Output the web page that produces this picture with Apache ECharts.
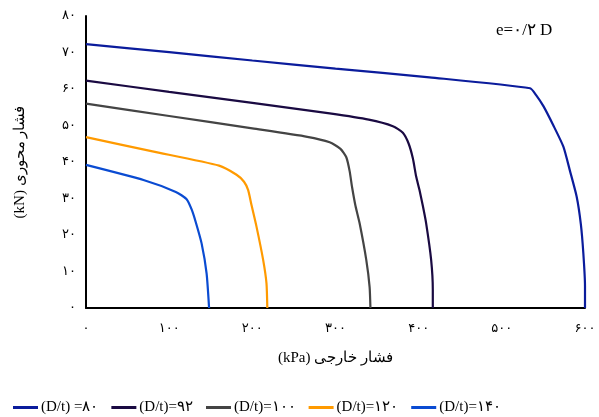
<!DOCTYPE html>
<html>
<head>
<meta charset="utf-8">
<script src="https://cdn.jsdelivr.net/npm/echarts@6/dist/echarts.min.js"></script>
<style>
  html, body { margin: 0; padding: 0; background: #fff; }
  #chart { width: 599px; height: 417px; }
</style>
</head>
<body>
<div id="chart"></div>
<script>
// External pressure (kPa) vs axial load (kN) for each D/t ratio, e = 0.2 D
const seriesNames = ['(D/t) =۸۰', '(D/t)=۹۲', '(D/t)=۱۰۰', '(D/t)=۱۲۰', '(D/t)=۱۴۰'];

const dt80 = [[0,72.3],[100,70.1],[200,67.8],[300,65.6],[413,63.2],[534,60.2],[541,58.4],[550,55.3],[562,50],[574,44.2],[582,37.5],[590,30.5],[595,23],[598,15],[600,6],[600,0]];
const dt92 = [[0,62.3],[100,59.2],[200,56.2],[293,53.3],[340,51.6],[369,49.8],[381,48],[388,45],[393,41],[397,36],[401,32.3],[405,28],[409,23.2],[415,13.2],[417,5],[417,0]];
const dt100 = [[0,56],[100,52.6],[200,49.2],[266,46.9],[293,45.4],[306,43.6],[313,41.3],[317,37.5],[320,33],[324,28],[329,23.2],[337,13.2],[341,5.8],[342,0]];
const dt120 = [[0,46.8],[80,42.9],[160,39],[181,36.5],[190,34.6],[195,32.3],[199,28.2],[205,22.3],[213,13.2],[217,6.8],[218,0]];
const dt140 = [[0,39.2],[70,35],[108,31.8],[121,29.8],[127,27],[132,23.5],[139,17.7],[145,9.5],[148,0]];

const lineColors = ['#0b1c9c', '#1a0a42', '#444444', '#ff9a00', '#0a4bd2'];

const xTickLabels = ['۰', '۱۰۰', '۲۰۰', '۳۰۰', '۴۰۰', '۵۰۰', '۶۰۰'];
const yTickLabels = ['۰', '۱۰', '۲۰', '۳۰', '۴۰', '۵۰', '۶۰', '۷۰', '۸۰'];

const allData = [dt80, dt92, dt100, dt120, dt140];
const serifFont = '"Liberation Serif", "DejaVu Serif", serif';
const digitFont = '"DejaVu Sans", "Noto Sans", sans-serif';

const chart = echarts.init(document.getElementById('chart'), null, { renderer: 'canvas' });

chart.setOption({
  animation: false,
  backgroundColor: '#ffffff',
  grid: { left: 86, right: 14, top: 16, bottom: 109 },
  legend: {
    top: 395,
    left: 8,
    itemGap: 13,
    itemWidth: 25,
    itemHeight: 3,
    icon: 'rect',
    textStyle: { fontFamily: serifFont, fontSize: 15, color: '#000', padding: [0, 0, 0, -2] },
    data: seriesNames
  },
  xAxis: {
    type: 'value',
    min: 0, max: 600, interval: 100,
    name: '(kPa) فشار خارجی',
    nameLocation: 'middle',
    nameGap: 43,
    nameTextStyle: { fontFamily: serifFont, fontSize: 15, color: '#000' },
    axisLine: { lineStyle: { color: '#000', width: 2 } },
    axisTick: { show: false },
    splitLine: { show: false },
    axisLabel: {
      margin: 14,
      fontFamily: digitFont, fontSize: 13, color: '#000',
      formatter: v => xTickLabels[Math.round(v / 100)]
    }
  },
  yAxis: {
    type: 'value',
    min: 0, max: 80, interval: 10,
    name: '(kN) فشار محوری',
    nameLocation: 'middle',
    nameGap: 58,
    nameRotate: 90,
    nameTextStyle: { fontFamily: serifFont, fontSize: 15, color: '#000' },
    axisLine: { show: true, lineStyle: { color: '#000', width: 2 } },
    axisTick: { show: false },
    splitLine: { show: false },
    axisLabel: {
      margin: 10,
      fontFamily: digitFont, fontSize: 13, color: '#000',
      formatter: v => yTickLabels[Math.round(v / 10)]
    }
  },
  graphic: [{
    type: 'text',
    left: 496, top: 22,
    style: { text: 'e=۰/۲ D', fontFamily: serifFont, fontSize: 17, fill: '#000' }
  }],
  series: allData.map((d, i) => ({
    name: seriesNames[i],
    type: 'line',
    data: d,
    smooth: 0.2,
    showSymbol: false,
    color: lineColors[i],
    lineStyle: { width: 2.2, color: lineColors[i] },
    z: 10 - i
  }))
});
</script>
</body>
</html>
